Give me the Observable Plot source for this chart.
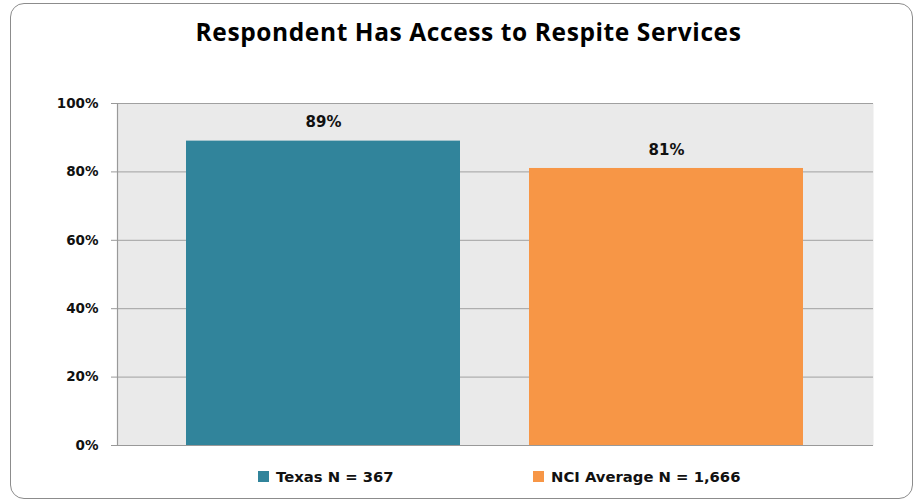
<!DOCTYPE html>
<html>
<head>
<meta charset="utf-8">
<script src="https://cdn.jsdelivr.net/npm/d3@7"></script>
<script src="https://cdn.jsdelivr.net/npm/@observablehq/plot@0.6"></script>
<style>
  html, body { margin: 0; padding: 0; background: #fff; }
  #page { position: relative; width: 919px; height: 502px; overflow: hidden; }
  #frame { position: absolute; left: 10px; top: 3px; width: 901px; height: 494px;
           border: 1.5px solid #8c8c8c; border-radius: 14px; }
  #title { position: absolute; left: 0; width: 937px; top: 15px; text-align: center; line-height: normal;
           font-family: "Open Sans", sans-serif; font-weight: bold; font-size: 24.5px; letter-spacing: 0.6px; color: #000; }
  #chart { position: absolute; left: 0; top: 80px; }
  #legend { position: absolute; top: 468px; left: 0; width: 919px; height: 20px;
            font-family: "DejaVu Sans", sans-serif; font-weight: bold; font-size: 14.8px; color: #111; }
  .item { position: absolute; display: flex; align-items: center; gap: 7px; }
  .sw { width: 11px; height: 11px; display: inline-block; }
</style>
</head>
<body>
<div id="page">
  <div id="frame"></div>
  <div id="title">Respondent Has Access to Respite Services</div>
  <div id="chart"></div>
  <div id="legend"></div>
</div>
<script>
const categories = ["Texas N = 367", "NCI Average N = 1,666"];
const values = [0.89, 0.81];
const valueLabels = ["89%", "81%"];
const colors = ["#31849B", "#F79646"];
const yTicks = [0, 0.2, 0.4, 0.6, 0.8, 1.0];

const data = categories.map((c, i) => ({name: c, value: values[i], label: valueLabels[i]}));

const plot = Plot.plot({
  width: 919,
  height: 385,
  marginLeft: 117,
  marginRight: 46,
  marginTop: 23,
  marginBottom: 20,
  x: {type: "band", domain: categories, padding: 0.2, axis: null},
  y: {domain: [0, 1], ticks: yTicks, tickFormat: d3.format(".0%"), label: null},
  color: {domain: categories, range: colors},
  style: {fontFamily: "DejaVu Sans, sans-serif", fontSize: "13px", fontWeight: "bold", color: "#111"},
  marks: [
    Plot.frame({fill: "#eaeaea", stroke: null}),
    Plot.ruleY(yTicks, {stroke: "#a0a0a0", strokeWidth: 1, strokeOpacity: 1}),
    Plot.axisY({ticks: yTicks, tickFormat: d3.format(".0%"), tickSize: 6, tickPadding: 13, stroke: "#999", strokeOpacity: 1, label: null, fontWeight: "bold", fontSize: 13.5}),
    Plot.barY(data, {x: "name", y: "value", fill: "name"}),
    Plot.frame({anchor: "left", stroke: "#999", strokeWidth: 1.2}),
    Plot.ruleY([0], {stroke: "#999", strokeWidth: 1.2}),
    Plot.text(data, {x: "name", y: "value", text: "label", dy: -18.5, fontSize: 15, fontWeight: "bold", fill: "#111"})
  ]
});
document.getElementById("chart").appendChild(plot);

const legend = document.getElementById("legend");
const lx = [258, 533];
categories.forEach((c, i) => {
  const item = document.createElement("div");
  item.className = "item";
  item.style.left = lx[i] + "px";
  item.style.top = "0px";
  const sw = document.createElement("span");
  sw.className = "sw";
  sw.style.background = colors[i];
  const t = document.createElement("span");
  t.textContent = c;
  item.appendChild(sw);
  item.appendChild(t);
  legend.appendChild(item);
});
</script>
</body>
</html>
